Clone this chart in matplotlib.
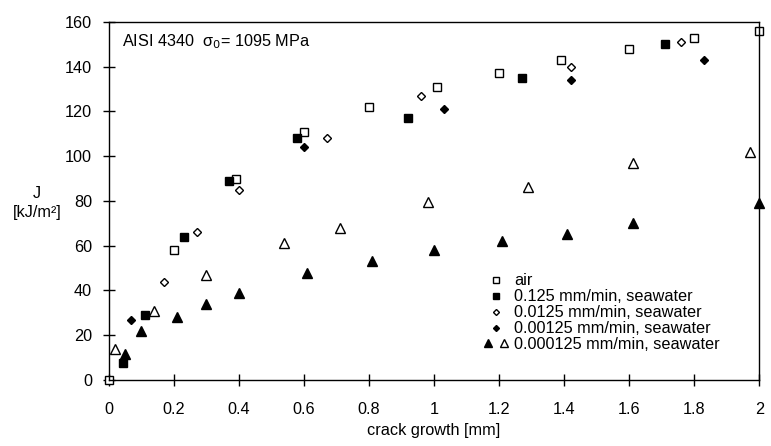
import matplotlib
matplotlib.use("Agg")
import matplotlib.pyplot as plt
from matplotlib.legend_handler import HandlerTuple

plt.rcParams['font.family'] = ['Liberation Sans', 'DejaVu Sans']

# Dane
air_x = [0.0, 0.20, 0.39, 0.60, 0.80, 1.01, 1.20, 1.39, 1.60, 1.80, 2.0]
air_y = [0.0, 58, 90, 111, 122, 131, 137, 143, 148, 153, 156]

sw0125_x = [0.045, 0.11, 0.23, 0.37, 0.58, 0.92, 1.27, 1.71]
sw0125_y = [7.5, 29, 64, 89, 108, 117, 135, 150]

sw00125_x = [0.17, 0.27, 0.40, 0.67, 0.96, 1.42, 1.76]
sw00125_y = [44, 66, 85, 108, 127, 140, 151]

sw000125_x = [0.07, 0.60, 1.03, 1.42, 1.83]
sw000125_y = [27, 104, 121, 134, 143]

sw0000125f_x = [0.05, 0.10, 0.21, 0.30, 0.40, 0.61, 0.81, 1.00, 1.21, 1.41, 1.61, 2.0]
sw0000125f_y = [11.5, 22, 28, 34, 39, 48, 53, 58, 62, 65, 70, 79]

sw0000125h_x = [0.02, 0.14, 0.30, 0.54, 0.71, 0.98, 1.29, 1.61, 1.97]
sw0000125h_y = [14, 31, 47, 61, 68, 79.5, 86, 97, 102]

labels = ["air", "0.125 mm/min, seawater", "0.0125 mm/min, seawater",
          "0.00125 mm/min, seawater", "0.000125 mm/min, seawater"]

xticks = [0, 0.2, 0.4, 0.6, 0.8, 1.0, 1.2, 1.4, 1.6, 1.8, 2.0]
xticklabels = ["0", "0.2", "0.4", "0.6", "0.8", "1", "1.2", "1.4", "1.6", "1.8", "2"]
yticks = [0, 20, 40, 60, 80, 100, 120, 140, 160]

fs = 11.7
fig = plt.figure(figsize=(7.71, 4.46), dpi=100)
ax = fig.add_axes([0.141, 0.148, 0.844, 0.803])

kw = dict(linestyle='none', markeredgecolor='black', markeredgewidth=1.0, clip_on=False)
h_air, = ax.plot(air_x, air_y, marker='s', ms=6, markerfacecolor='white', **kw)
h_sq, = ax.plot(sw0125_x, sw0125_y, marker='s', ms=6, markerfacecolor='black', **kw)
h_dh, = ax.plot(sw00125_x, sw00125_y, marker='D', ms=3.8, markerfacecolor='white', **kw)
h_df, = ax.plot(sw000125_x, sw000125_y, marker='D', ms=3.8, markerfacecolor='black', **kw)
h_tf, = ax.plot(sw0000125f_x, sw0000125f_y, marker='^', ms=6.5, markerfacecolor='black', **kw)
h_th, = ax.plot(sw0000125h_x, sw0000125h_y, marker='^', ms=6.5, markerfacecolor='white', **kw)

ax.set_xlim(0, 2)
ax.set_ylim(0, 160)
ax.set_xticks(xticks)
ax.set_xticklabels(xticklabels)
ax.set_yticks(yticks)
ax.tick_params(direction='inout', length=8, width=1, labelsize=fs)
ax.tick_params(axis='x', pad=12)
ax.tick_params(axis='y', pad=8)
for s in ax.spines.values():
    s.set_linewidth(1.0)

ax.set_xlabel("crack growth [mm]", fontsize=fs, labelpad=4)
fig.text(0.048, 0.545, "J\n[kJ/m²]", fontsize=fs, ha='center', va='center',
         linespacing=1.3)

ax.text(0.04, 151, "AISI 4340  σ$_0$= 1095 MPa", fontsize=fs, va='center')

# Legenda
handles = [h_air, h_sq, h_dh, h_df, (h_tf, h_th)]
ax.legend(handles, labels, loc='lower left', bbox_to_anchor=(0.563, 0.055),
          frameon=False, fontsize=fs, labelspacing=0.06, handletextpad=0.3,
          handlelength=1.6, borderpad=0, markerscale=0.8,
          handler_map={tuple: HandlerTuple(ndivide=None, pad=0.3)})

plt.savefig("out.png", dpi=100)
